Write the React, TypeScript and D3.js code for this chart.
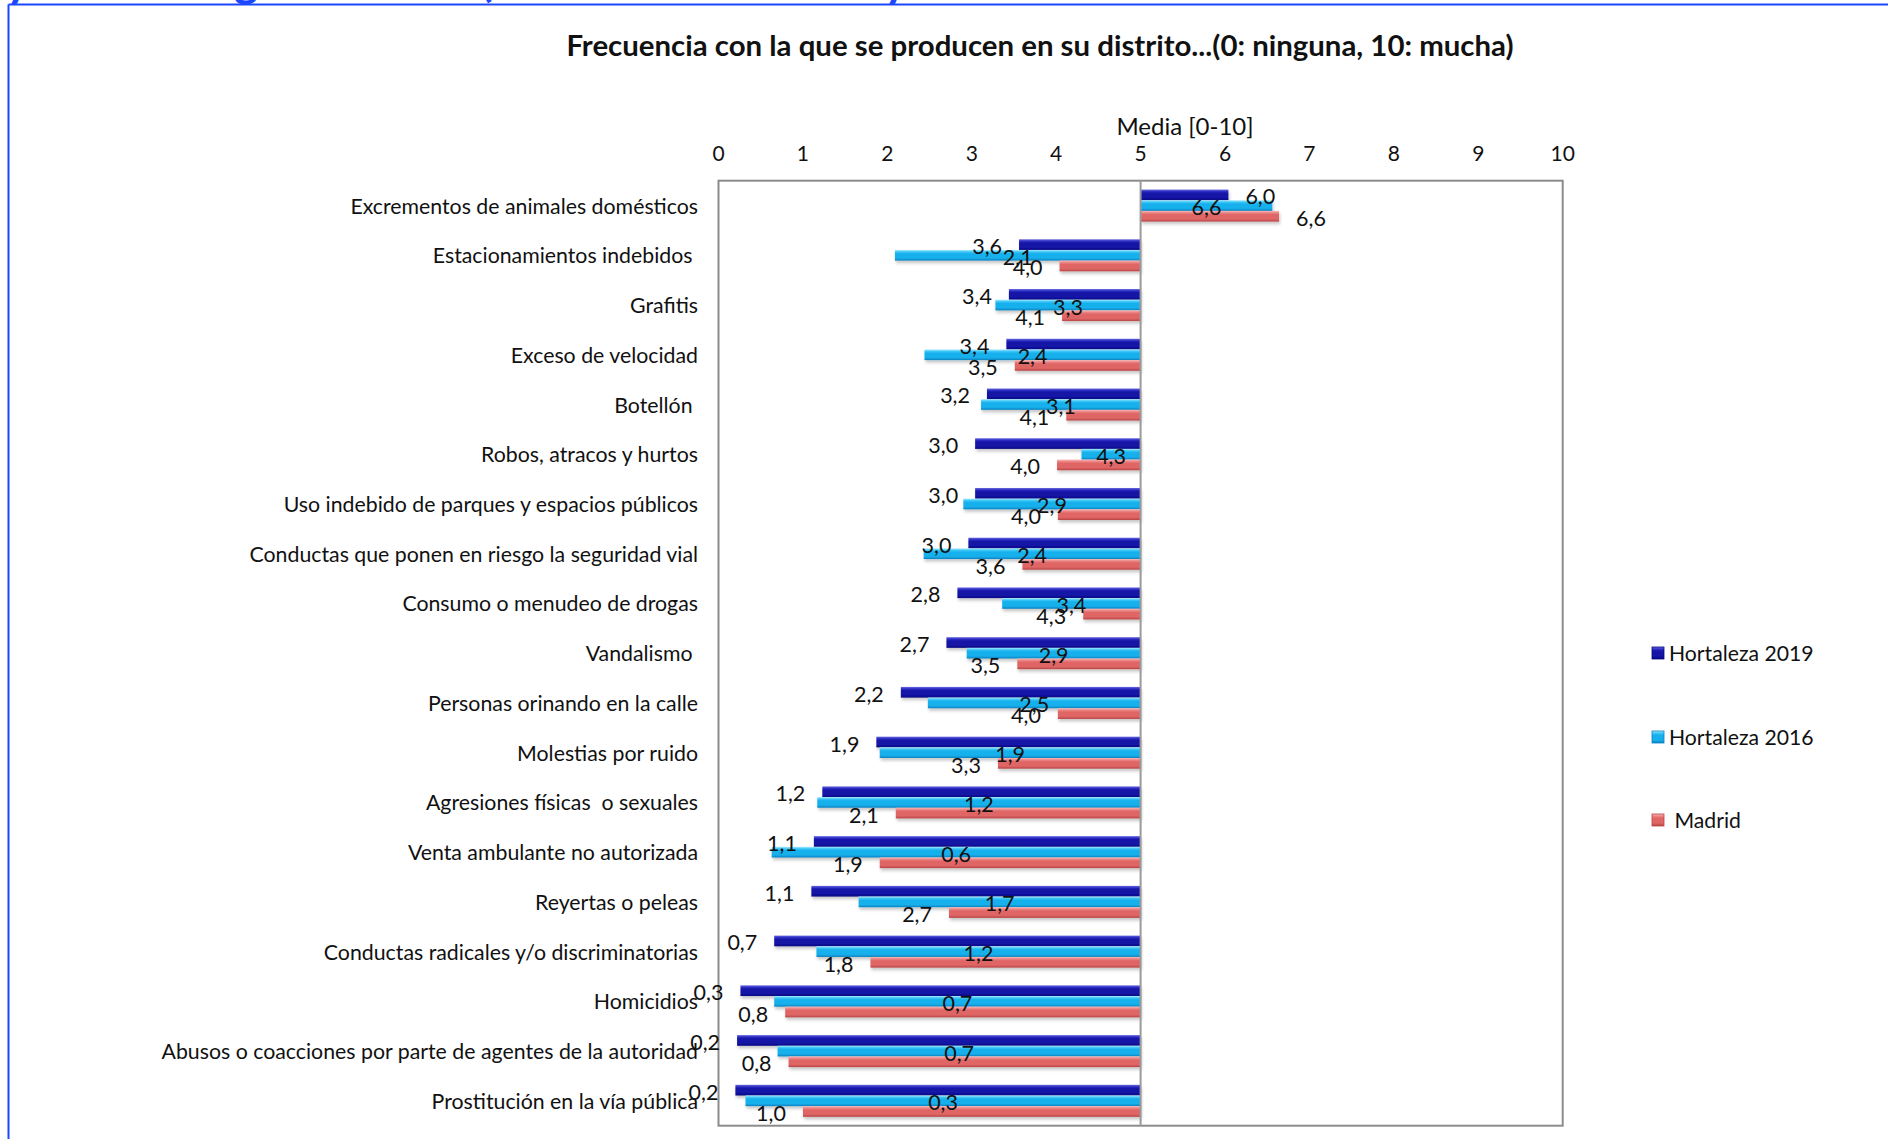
import React from "react";
import * as d3 from "d3";

const categories = [
  "Excrementos de animales domésticos",
  "Estacionamientos indebidos ",
  "Grafitis",
  "Exceso de velocidad",
  "Botellón ",
  "Robos, atracos y hurtos",
  "Uso indebido de parques y espacios públicos",
  "Conductas que ponen en riesgo la seguridad vial",
  "Consumo o menudeo de drogas",
  "Vandalismo ",
  "Personas orinando en la calle",
  "Molestias por ruido",
  "Agresiones físicas  o sexuales",
  "Venta ambulante no autorizada",
  "Reyertas o peleas",
  "Conductas radicales y/o discriminatorias",
  "Homicidios",
  "Abusos o coacciones por parte de agentes de la autoridad",
  "Prostitución en la vía pública",
];

const hortaleza2019 = [6.04, 3.56, 3.44, 3.41, 3.18, 3.04, 3.04, 2.96, 2.83, 2.7, 2.16, 1.87, 1.23, 1.13, 1.1, 0.66, 0.26, 0.22, 0.2];
const hortaleza2016 = [6.56, 2.09, 3.28, 2.44, 3.11, 4.3, 2.9, 2.43, 3.36, 2.94, 2.48, 1.91, 1.17, 0.63, 1.66, 1.16, 0.66, 0.7, 0.32];
const madrid = [6.64, 4.04, 4.07, 3.51, 4.12, 4.01, 4.02, 3.6, 4.32, 3.54, 4.02, 3.31, 2.1, 1.91, 2.73, 1.8, 0.79, 0.83, 1.0];

const seriesNames = ["Hortaleza 2019", "Hortaleza 2016", "Madrid"];
const legendLabels = ["Hortaleza 2019", "Hortaleza 2016", " Madrid"];
const xTicks = [0, 1, 2, 3, 4, 5, 6, 7, 8, 9, 10];
const crossValue = 5;
const title = "Frecuencia con la que se producen en su distrito...(0: ninguna, 10: mucha)";
const axisTitle = "Media [0-10]";

const seriesStyles = [
  { id: "g2019", top: "#6a6ae0", light: "#2e2ec4", main: "#1414a6", dark: "#060680", label: "end" },
  { id: "g2016", top: "#a8ecff", light: "#3cc6f6", main: "#18b0ec", dark: "#0a82c0", label: "center" },
  { id: "gmad", top: "#f8b8b8", light: "#ec8585", main: "#e06666", dark: "#b84444", label: "end" },
];

const fmt = (v: number) => v.toFixed(1).replace(".", ",");

export default function App() {
  const W = 1888;
  const H = 1139;
  const plot = { left: 718.5, right: 1562.7, top: 180.7, bottom: 1125.7 };
  const font = "Lato, 'Open Sans', sans-serif";

  const x = d3.scaleLinear().domain([0, 10]).range([plot.left, plot.right]);
  const y = d3.scaleBand<string>().domain(categories).range([plot.top, plot.bottom]).padding(0);
  const ySeries = d3
    .scaleBand<string>()
    .domain(seriesNames)
    .range([0, y.bandwidth()])
    .paddingInner(0)
    .paddingOuter(0.83);

  const allSeries = [hortaleza2019, hortaleza2016, madrid];
  const x0 = x(crossValue);

  return (
    <svg
      width={W}
      height={H}
      style={{ position: "absolute", left: 0, top: 0, background: "#fff" }}
      fontFamily={font}
    >
      <defs>
        {seriesStyles.map((s) => (
          <linearGradient key={s.id} id={s.id} x1="0" y1="0" x2="0" y2="1">
            <stop offset="0" stopColor={s.top} />
            <stop offset="0.18" stopColor={s.light} />
            <stop offset="0.35" stopColor={s.main} />
            <stop offset="0.75" stopColor={s.main} />
            <stop offset="1" stopColor={s.dark} />
          </linearGradient>
        ))}
        <filter id="shadow" x="-5%" y="-40%" width="110%" height="200%">
          <feDropShadow dx="1" dy="2.5" stdDeviation="1.8" floodColor="#000" floodOpacity="0.22" />
        </filter>
      </defs>

      {/* outer blue frame from page */}
      <line x1={8.5} y1={4.5} x2={W} y2={4.5} stroke="#1a47ff" strokeWidth={2} />
      <line x1={8.5} y1={4.5} x2={8.5} y2={H} stroke="#1a47ff" strokeWidth={2} />
      {[
        { ch: "y", x: 6, s: 46 },
        { ch: "g", x: 234, s: 46 },
        { ch: "(", x: 480, s: 46 },
        { ch: "y", x: 884, s: 46 },
      ].map((g, i) => (
        <text key={i} x={g.x} y={-4} fontSize={g.s} fontWeight="bold" fill="#1a47ff">
          {g.ch}
        </text>
      ))}

      {/* title */}
      <text x={1040} y={44} textAnchor="middle" dominantBaseline="central" fontSize={29.4} fontWeight="bold" fill="#111">
        {title}
      </text>

      {/* axis title */}
      <text x={1185} y={125} textAnchor="middle" dominantBaseline="central" fontSize={24} fill="#111">
        {axisTitle}
      </text>

      {/* x tick labels (top) */}
      {xTicks.map((t) => (
        <text key={t} x={x(t)} y={152.5} textAnchor="middle" dominantBaseline="central" fontSize={21} fill="#111">
          {t}
        </text>
      ))}

      {/* plot border */}
      <rect
        x={plot.left}
        y={plot.top}
        width={plot.right - plot.left}
        height={plot.bottom - plot.top}
        fill="none"
        stroke="#8c8c8c"
        strokeWidth={2}
      />

      {/* category labels */}
      {categories.map((c) => (
        <text
          key={c}
          x={698}
          y={(y(c) as number) + y.bandwidth() / 2}
          textAnchor="end"
          dominantBaseline="central"
          fontSize={21.3}
          fill="#111"
          style={{ whiteSpace: "pre" }}
        >
          {c}
        </text>
      ))}

      {/* bars */}
      {categories.map((c, ci) =>
        allSeries.map((vals, si) => {
          const v = vals[ci];
          const yy = (y(c) as number) + (ySeries(seriesNames[si]) as number);
          const h = ySeries.bandwidth();
          const xa = Math.min(x(v), x0);
          const xb = Math.max(x(v), x0);
          return (
            <rect
              key={c + si}
              x={xa}
              y={yy}
              width={xb - xa}
              height={h}
              fill={`url(#${seriesStyles[si].id})`}
              filter="url(#shadow)"
            />
          );
        })
      )}

      {/* cross axis line at 5 */}
      <line x1={x0} y1={plot.top} x2={x0} y2={plot.bottom} stroke="#9a9a9a" strokeWidth={2} />

      {/* value labels */}
      {categories.map((c, ci) =>
        allSeries.map((vals, si) => {
          const v = vals[ci];
          const yy = (y(c) as number) + (ySeries(seriesNames[si]) as number) + ySeries.bandwidth() / 2 + 1.5;
          let tx: number;
          let anchor: "start" | "middle" | "end";
          if (seriesStyles[si].label === "center") {
            tx = x((v + crossValue) / 2);
            anchor = "middle";
          } else if (v < crossValue) {
            tx = x(v) - 17;
            anchor = "end";
          } else {
            tx = x(v) + 17;
            anchor = "start";
          }
          return (
            <text
              key={"l" + c + si}
              x={tx}
              y={yy}
              textAnchor={anchor}
              dominantBaseline="central"
              fontSize={21.5}
              fill="#111"
            >
              {fmt(v)}
            </text>
          );
        })
      )}

      {/* legend */}
      {seriesNames.map((s, i) => {
        const ly = [653, 737, 820][i];
        return (
          <g key={s}>
            <rect x={1652} y={ly - 6} width={12} height={12} fill={`url(#${seriesStyles[i].id})`} stroke={seriesStyles[i].dark} strokeWidth={0.8} />
            <text x={1669} y={ly} dominantBaseline="central" fontSize={21.2} fill="#111" style={{ whiteSpace: "pre" }}>
              {legendLabels[i]}
            </text>
          </g>
        );
      })}
    </svg>
  );
}
